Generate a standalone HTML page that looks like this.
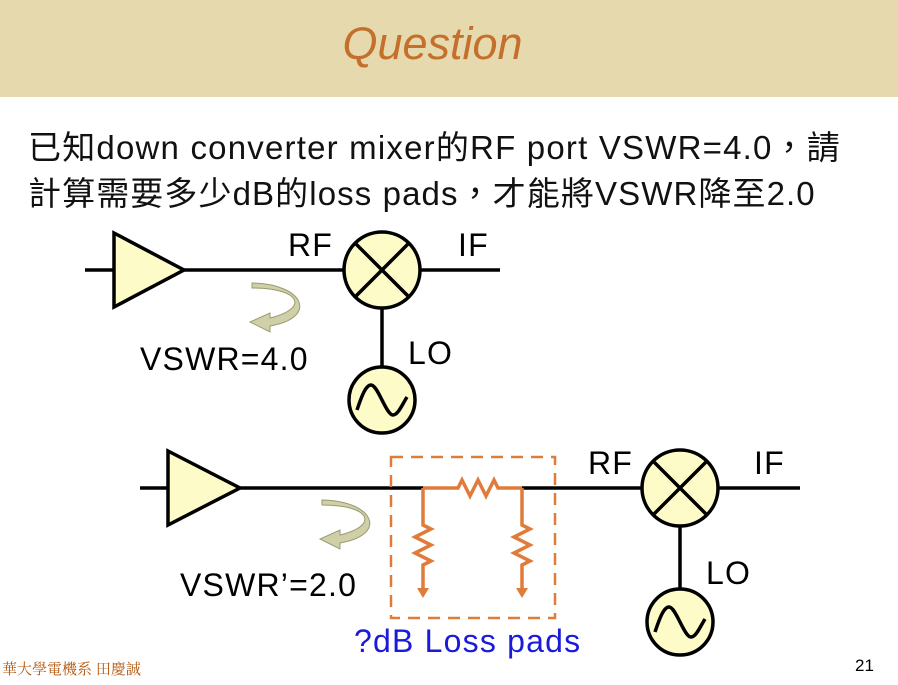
<!DOCTYPE html>
<html><head><meta charset="utf-8"><style>
body{margin:0;width:898px;height:685px;background:#fff;overflow:hidden;position:relative;font-family:"Liberation Sans","Noto Sans CJK TC",sans-serif}
.hd{position:absolute;left:0;top:0;width:898px;height:97px;background:#e6d9ae}
.t{position:absolute;white-space:nowrap}
.l{font-size:32px;letter-spacing:1.2px}
</style></head><body>
<div class="hd"></div>
<div class="t" style="left:0;width:865px;text-align:center;top:18px;font-size:45px;font-style:italic;color:#c46f2c">Question</div>
<div class="t" style="left:28px;top:121px;font-size:33px;color:#111;letter-spacing:1.2px">已知down converter mixer的RF port VSWR=4.0，請</div>
<div class="t" style="left:28px;top:167px;font-size:33px;color:#111;letter-spacing:1.1px">計算需要多少dB的loss pads，才能將VSWR降至2.0</div>
<svg width="898" height="685" style="position:absolute;left:0;top:0">
<g stroke="#000" stroke-width="3.5" fill="#fdfbc8">
<line x1="85" y1="270" x2="345" y2="270"/>
<line x1="420" y1="270" x2="500" y2="270"/>
<polygon points="114,233 184,270 114,307"/>
<circle cx="382" cy="270" r="38"/>
<line x1="355" y1="243" x2="409" y2="297"/><line x1="409" y1="243" x2="355" y2="297"/>
<line x1="382" y1="308" x2="382" y2="367"/>
<circle cx="382" cy="400" r="33"/>
<path d="M357,410 C362,395 366,385 371,385 C378,385 386,415 393,415 C398,415 402,405 407,397" fill="none"/>
<line x1="140" y1="488" x2="423" y2="488"/>
<line x1="522" y1="488" x2="642" y2="488"/>
<line x1="718" y1="488" x2="800" y2="488"/>
<polygon points="168,451 240,488 168,525"/>
<circle cx="680" cy="488" r="38"/>
<line x1="653" y1="461" x2="707" y2="515"/><line x1="707" y1="461" x2="653" y2="515"/>
<line x1="680" y1="526" x2="680" y2="589"/>
<circle cx="680" cy="622" r="33"/>
<path d="M655,632 C660,617 664,607 669,607 C676,607 684,637 691,637 C696,637 700,627 705,619" fill="none"/>
</g>
<rect x="391" y="457" width="164" height="161" fill="none" stroke="#e07c3a" stroke-width="2.5" stroke-dasharray="12,8"/>
<g stroke="#e07c3a" stroke-width="3.5" fill="none">
<path d="M423,488 H458 L462,480 L470,496 L478,480 L486,496 L494,480 L498,488 H522"/>
<path d="M423,488 V525 L431,529 L415,537 L431,545 L415,553 L431,561 L423,565 V590"/>
<path d="M522,488 V525 L530,529 L514,537 L530,545 L514,553 L530,561 L522,565 V590"/>
</g>
<g fill="#e07c3a"><polygon points="417,588 429,588 423,598"/><polygon points="516,588 528,588 522,598"/></g>
<g fill="#cfcfa8" stroke="#9a9a70" stroke-width="1">
<path d="M252,288 C300,288 310,308 270,318 L270,313 L250,322 L270,332 L270,326 C318,318 305,284 252,283 Z"/>
<path d="M322,505 C370,505 380,525 340,535 L340,530 L320,539 L340,549 L340,543 C388,535 375,501 322,500 Z"/>
</g>
</svg>
<div class="t l" style="left:288px;top:227px">RF</div>
<div class="t l" style="left:458px;top:227px">IF</div>
<div class="t l" style="left:408px;top:335px">LO</div>
<div class="t l" style="left:140px;top:341px">VSWR=4.0</div>
<div class="t l" style="left:588px;top:445px">RF</div>
<div class="t l" style="left:754px;top:445px">IF</div>
<div class="t l" style="left:706px;top:555px">LO</div>
<div class="t l" style="left:180px;top:567px">VSWR’=2.0</div>
<div class="t l" style="left:354px;top:623px;color:#1a1adb">?dB Loss pads</div>
<div class="t" style="left:2px;top:658px;font-size:15px;color:#b35a10;font-family:'Noto Serif CJK SC',serif">華大學電機系 田慶誠</div>
<div class="t" style="left:855px;top:656px;font-size:17px">21</div>
</body></html>
